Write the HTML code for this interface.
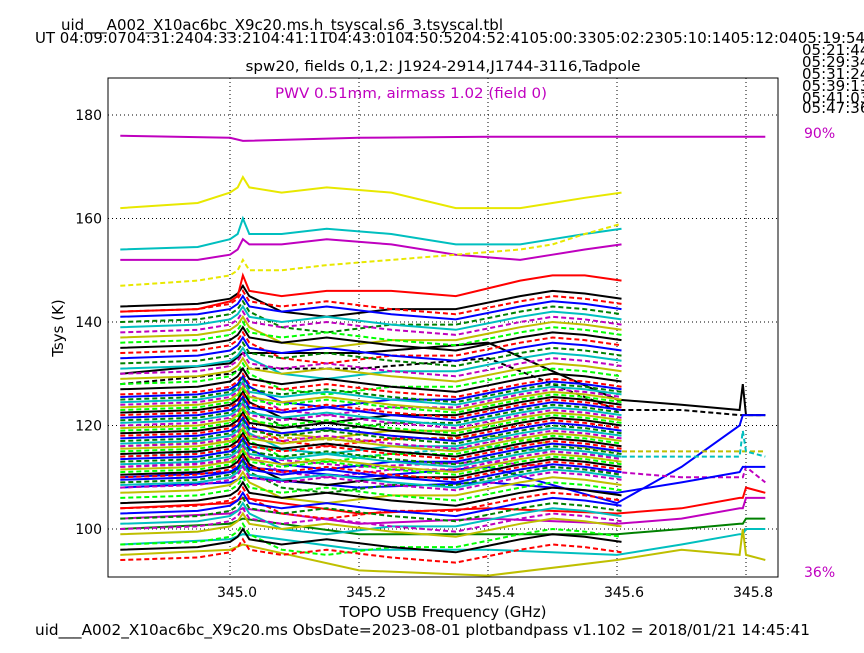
<!DOCTYPE html>
<html><head><meta charset="utf-8">
<style>
body{margin:0;background:#fff;}
svg text{font-family:"DejaVu Sans","Liberation Sans",sans-serif;}
</style></head>
<body>
<svg id="chart" width="864" height="648" viewBox="0 0 864 648" xmlns="http://www.w3.org/2000/svg">
<rect width="864" height="648" fill="#fff"/>
<text x="61" y="30" font-size="15" textLength="442" lengthAdjust="spacingAndGlyphs">uid___A002_X10ac6bc_X9c20.ms.h_tsyscal.s6_3.tsyscal.tbl</text>
<text x="35" y="43" font-size="15" textLength="830" lengthAdjust="spacingAndGlyphs">UT 04:09:0704:31:2404:33:2104:41:1104:43:0104:50:5204:52:4105:00:3305:02:2305:10:1405:12:0405:19:54</text>
<g font-size="15">
<text x="802" y="55">05:21:44</text><text x="802" y="67">05:29:34</text><text x="802" y="79">05:31:24</text>
<text x="802" y="91">05:39:13</text><text x="802" y="103">05:41:03</text><text x="802" y="113">05:47:36</text>
</g>
<text x="443" y="71" font-size="14" text-anchor="middle" textLength="395" lengthAdjust="spacingAndGlyphs">spw20,  fields 0,1,2: J1924-2914,J1744-3116,Tadpole</text>
<text x="411" y="98" font-size="14" fill="#c000c0" text-anchor="middle" textLength="272" lengthAdjust="spacingAndGlyphs">PWV 0.51mm, airmass 1.02 (field 0)</text>
<text x="804" y="138" font-size="14" fill="#c000c0">90%</text>
<text x="804" y="577" font-size="14" fill="#c000c0">36%</text>
<g id="grid"></g>
<svg id="plotclip" x="108" y="78" width="670" height="499" overflow="hidden"><g id="series" transform="translate(-108,-78)"></g></svg>
<rect x="108" y="78" width="670" height="499" fill="none" stroke="#000" stroke-width="1"/>
<g id="ticks"></g>
<text x="443" y="617" font-size="15" text-anchor="middle">TOPO USB Frequency (GHz)</text>
<text x="63" y="328" font-size="15" text-anchor="middle" transform="rotate(-90 63 328)">Tsys (K)</text>
<text x="35" y="635" font-size="15" textLength="775" lengthAdjust="spacingAndGlyphs">uid___A002_X10ac6bc_X9c20.ms  ObsDate=2023-08-01   plotbandpass v1.102 = 2018/01/21 14:45:41</text>
</svg>
<script>
const xTicks=[345.0,345.2,345.4,345.6,345.8];
const yTicks=[100,120,140,160,180];
const freqs=[344.83,344.95,345.0,345.012,345.02,345.03,345.08,345.15,345.25,345.35,345.45,345.5,345.55,345.607];
const profile=[0,0.5,1.5,2.5,4,2,1,2,0.5,-0.5,2,3,2.5,1.5];
const offsets=[143,142,141,140,139,138,137,136,135,134,133,132,131,130,129,128,127,126,125.5,125,124.5,124,123.5,123,122.5,122,121.5,121,120.5,120,119.5,119,118.5,118,117.5,117,116.5,116,115.5,115,114.5,114,113.5,113,112.5,112,111.5,111,110.5,110,109.5,109,108.5,108,107,106,105,104,103,102,101,100,99,97,96,94];
const colors=['#000000','#ff0000','#0000ff','#008000','#00bfbf','#bf00bf','#bfbf00','#00ff00'];
const topSeries=[[162,163,165,166,168,166,165,166,165,162,162,163,164,165],[154,154.5,156,157,160,157,157,158,157,155,155,156,157,158],[152,152,153,154,156,155,155,156,155,153,152,153,154,155],[147,148,149,150,152,150,150,151,152,153,154,155,157,159],[142,142.5,144,145,149,146,145,146,146,145,148,149,149,148]];
const topColors=['#e8e800','#00bfbf','#bf00bf','#e8e800','#ff0000'];
const topDash=[false,false,false,true,false];
const extFreqs=[344.83,345.0,345.02,345.2,345.4,345.6,345.7,345.79,345.795,345.8,345.83];
const extSeries=[[176,175.6,175,175.6,175.8,175.8,175.8,175.8,175.8,175.8,175.8],[130,132,134,134,136,125,124,123,128,122,122],[128,130,131,131,133,123,123,122,122,122,122],[110,111,112,110,112,105,112,120,122,122,122],[116,117,118,117,118,115,115,115,115,115,115],[114,115,116,114,116,114,114,114,119,115,114],[112,113,114,112,113,111,110,110,110,112,109],[108,109,110,108,109,107,109,111,112,112,112],[104,105,106,103,104,103,104,106,106,108,107],[102,103,104,101,102,101,102,104,104,106,106],[100,101,102,99,99,99,100,101,101,102,102],[97,98,99,96,96,95,97,99,99,100,100],[95,96,97,92,91,94,96,95,100,95,94]];
const extColors=['#bf00bf','#000000','#000000','#0000ff','#bfbf00','#00bfbf','#bf00bf','#0000ff','#ff0000','#bf00bf','#008000','#00bfbf','#bfbf00'];
const extDash=[false,false,true,false,true,true,true,false,false,false,false,false,false];

const X=f=>230+(f-345.0)*645;
const Y=v=>115+(180-v)*5.175;
const NS='http://www.w3.org/2000/svg';
const grid=document.getElementById('grid'),ticks=document.getElementById('ticks'),ser=document.getElementById('series');
function mk(tag,parent){const e=document.createElementNS(NS,tag);parent.appendChild(e);return e;}
xTicks.forEach(t=>{
 const g=mk('line',grid);
 
 
 g.setAttribute('x1',X(t));g.setAttribute('x2',X(t));g.setAttribute('y1',78);g.setAttribute('y2',577);
 g.setAttribute('stroke','#000');g.setAttribute('stroke-dasharray','1,3');
 const l=mk('text',ticks);
 
 
 l.setAttribute('x',X(t)+7);l.setAttribute('y',597);l.setAttribute('font-size','14');l.setAttribute('text-anchor','middle');
 l.textContent=t.toFixed(1);
});
yTicks.forEach(t=>{
 const g=mk('line',grid);
 
 
 g.setAttribute('x1',108);g.setAttribute('x2',778);g.setAttribute('y1',Y(t));g.setAttribute('y2',Y(t));
 g.setAttribute('stroke','#000');g.setAttribute('stroke-dasharray','1,3');
 const l=mk('text',ticks);
 
 
 l.setAttribute('x',102);l.setAttribute('y',Y(t)+5);l.setAttribute('font-size','14');l.setAttribute('text-anchor','end');
 l.textContent=t;
});
function line(fs,vs,color,dash,name){
 const p=mk('polyline',ser);
 
 
 p.setAttribute('points',fs.map((f,i)=>X(f).toFixed(1)+','+Y(vs[i]).toFixed(1)).join(' '));
 p.setAttribute('fill','none');p.setAttribute('stroke',color);p.setAttribute('stroke-width','2');
 if(dash)p.setAttribute('stroke-dasharray','5,3');
}
extSeries.forEach((s,i)=>line(extFreqs,s,extColors[i],extDash[i],'tsys-series-extended'));
offsets.forEach((o,i)=>{
 const k=(i%3===0)?-1:1;
 line(freqs,profile.map((d,j)=>o+d*(j>5&&j<9?k:1)),colors[i%colors.length],i%2===1,'tsys-series');
});
topSeries.forEach((s,i)=>line(freqs,s,topColors[i],topDash[i],'tsys-series-top'));
</script>
</body></html>
